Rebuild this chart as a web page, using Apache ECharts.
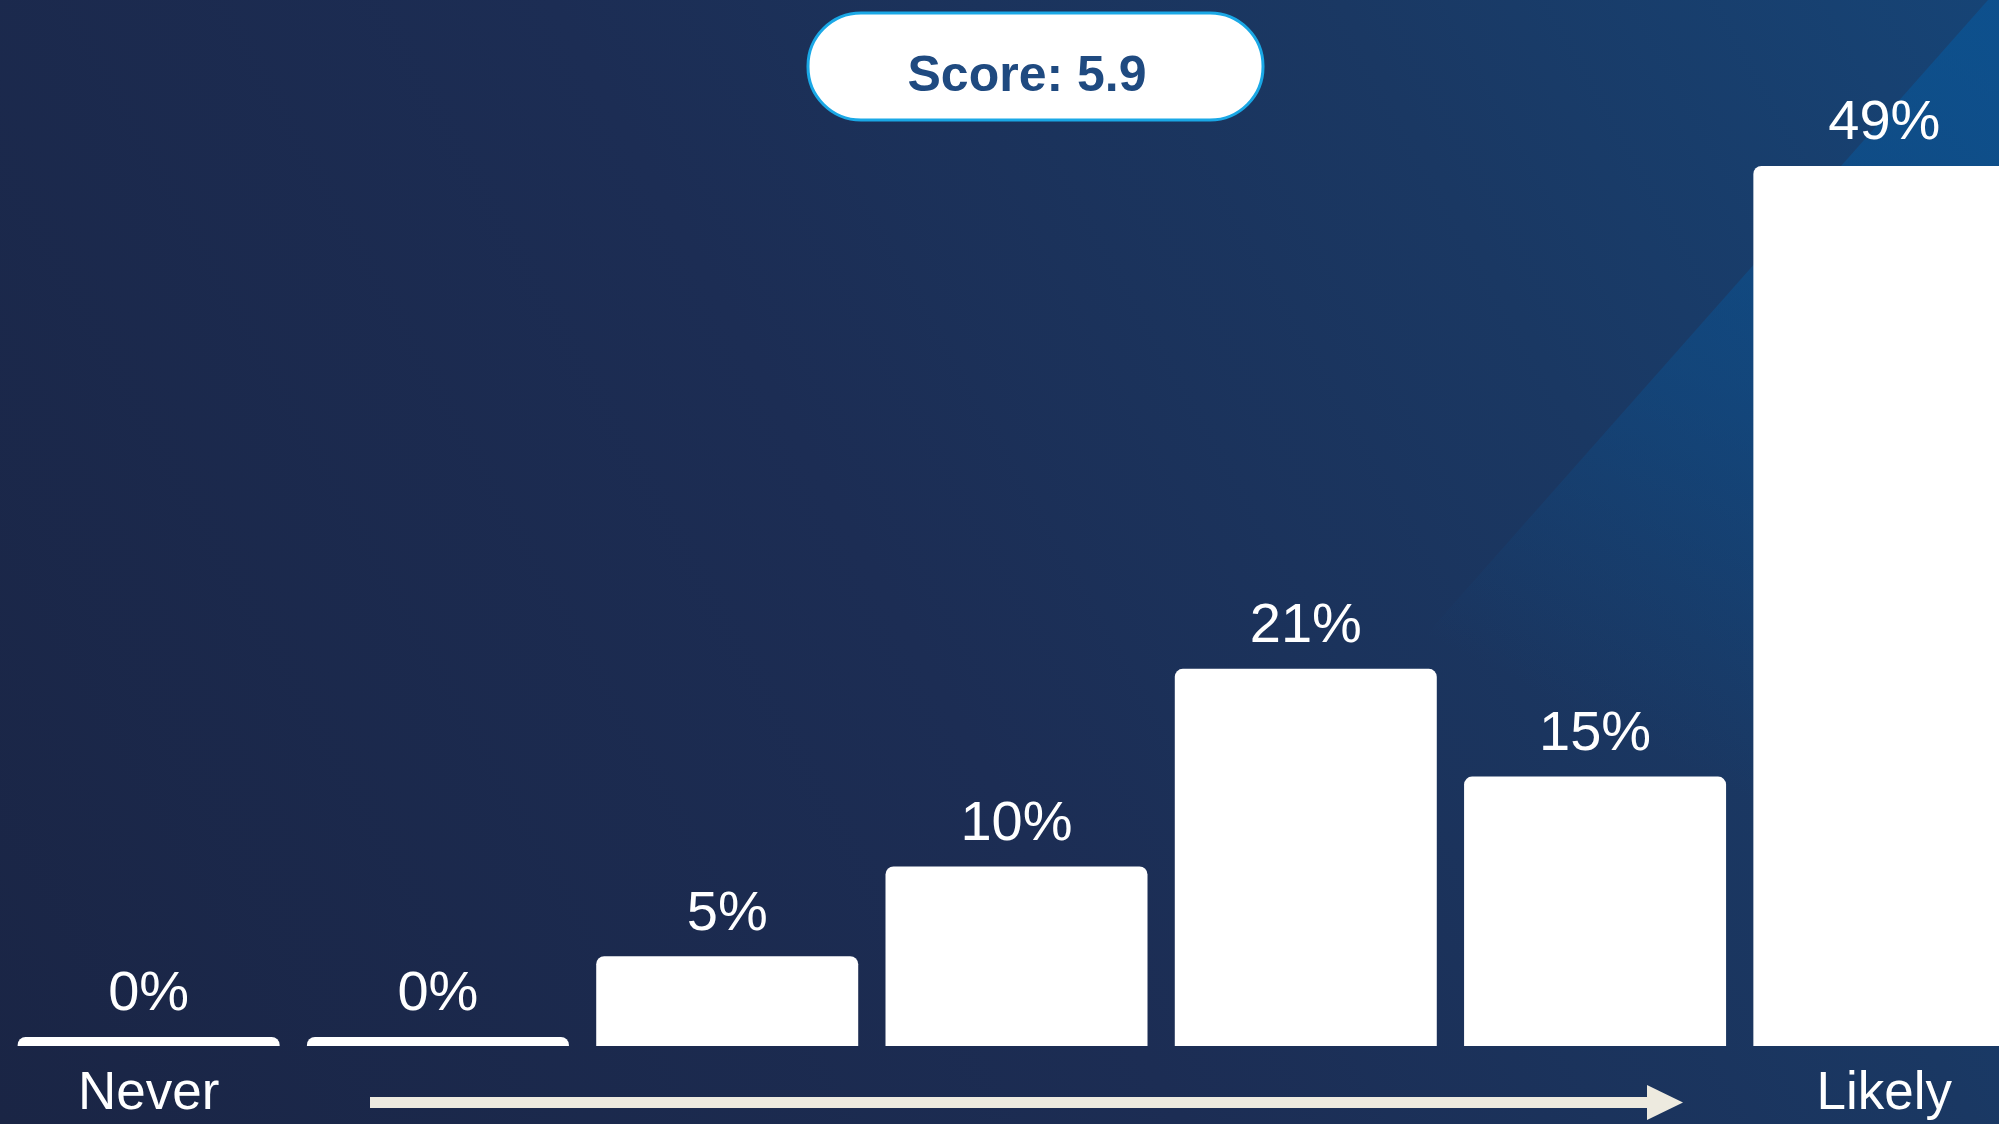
<!DOCTYPE html>
<html>
<head>
<meta charset="utf-8">
<script src="https://cdn.jsdelivr.net/npm/echarts@6/dist/echarts.min.js"></script>
<style>
html,body{margin:0;padding:0;background:#1b2848;}
#chart{width:1999px;height:1124px;}
</style>
</head>
<body>
<div id="chart"></div>
<script>
// ---- data ----
const categories = ['1', '2', '3', '4', '5', '6', '7'];
const tickLabels = ['Never', '', '', '', '', '', 'Likely'];
const shares = [0, 0, 5, 10, 21, 15, 49];
const scoreText = 'Score: 5.9';

const chart = echarts.init(document.getElementById('chart'));
const FONT = '"Liberation Sans", Arial, sans-serif';

chart.setOption({
  backgroundColor: {
    type: 'linear', x: 0, y: 1, x2: 1, y2: 0,
    colorStops: [
      {offset: 0, color: '#1a2545'},
      {offset: 0.45, color: '#1c2d54'},
      {offset: 0.75, color: '#1a3863'},
      {offset: 1, color: '#164476'}
    ]
  },
  animation: false,
  graphic: [
    {
      type: 'polygon', z: -10, silent: true,
      shape: {points: [[1988, 0], [1999, 0], [1999, 1124], [993, 1124]]},
      style: {
        fill: {
          type: 'linear', x: 0.9, y: 0, x2: 0.55, y2: 0.62,
          colorStops: [
            {offset: 0, color: 'rgba(10,85,150,0.7)'},
            {offset: 0.55, color: 'rgba(10,85,150,0.4)'},
            {offset: 1, color: 'rgba(10,85,150,0)'}
          ]
        }
      }
    },
    {
      type: 'rect', silent: true,
      shape: {x: 808, y: 13, width: 455, height: 107, r: 53},
      style: {fill: '#ffffff', stroke: '#1aa8e6', lineWidth: 3}
    },
    {
      type: 'text', silent: true, x: 1027, y: 77,
      style: {
        text: scoreText, fill: '#1f4a80',
        font: 'bold 50px ' + FONT,
        align: 'center', verticalAlign: 'middle'
      }
    },
    {
      type: 'rect', silent: true,
      shape: {x: 370, y: 1097, width: 1278, height: 11},
      style: {fill: '#edeadf'}
    },
    {
      type: 'polygon', silent: true,
      shape: {points: [[1647, 1085], [1683, 1102.5], [1647, 1120]]},
      style: {fill: '#edeadf'}
    }
  ],
  grid: {left: 4, width: 2025, top: 166, bottom: 78, containLabel: false, outerBoundsMode: 'none'},
  xAxis: {
    type: 'category',
    data: categories,
    axisLine: {show: false},
    axisTick: {show: false},
    axisLabel: {
      interval: 0,
      margin: 22,
      color: '#ffffff',
      fontFamily: FONT,
      fontSize: 53,
      formatter: (v, i) => tickLabels[i]
    }
  },
  yAxis: {
    type: 'value', min: 0, max: 49, show: false,
    splitLine: {show: false}
  },
  series: [{
    type: 'bar',
    data: shares,
    barWidth: 262,
    barMinHeight: 9,
    itemStyle: {color: '#ffffff', borderRadius: [8, 8, 0, 0]},
    label: {
      show: true,
      position: 'top',
      distance: 14,
      color: '#ffffff',
      fontFamily: FONT,
      fontSize: 56,
      formatter: p => p.value + '%'
    }
  }]
});
</script>
</body>
</html>
